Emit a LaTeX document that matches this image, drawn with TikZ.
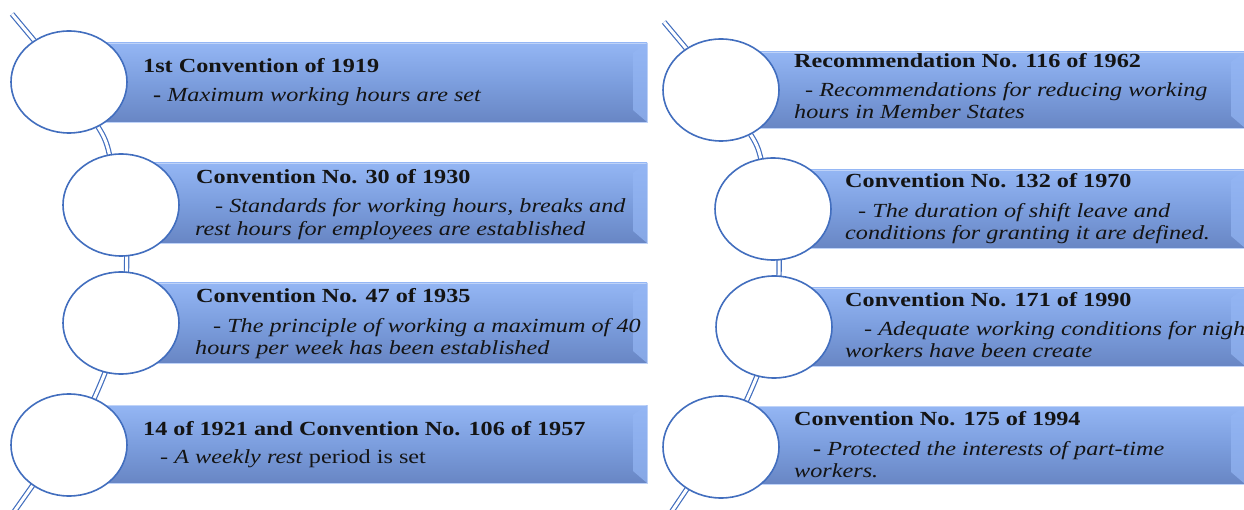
\documentclass[tikz,border=0pt]{standalone}
\usepackage{fontspec}
\setmainfont{Liberation Serif}[FakeStretch=1.21]
\usetikzlibrary{shapes.geometric, backgrounds}
\definecolor{barBlue}{RGB}{124, 158, 222}
\definecolor{barTop}{RGB}{148, 182, 244}
\definecolor{barBottom}{RGB}{104, 134, 196}
\definecolor{ringBlue}{RGB}{66, 110, 190}
\definecolor{inkDark}{RGB}{20, 20, 20}

\begin{document}
\begin{tikzpicture}[x=1pt, y=-1pt,
    bar/.style={top color=barTop, bottom color=barBottom, middle color=barBlue, draw=barTop!60!white, line width=0.8pt},
    bevel/.style={fill=barTop, opacity=0.7},
    ring/.style={ellipse, draw=ringBlue, line width=1.6pt, fill=white, minimum width=116pt, minimum height=102pt, inner sep=0pt},
    link/.style={draw=ringBlue, double=white, double distance=3pt, line width=1.2pt},
    head/.style={anchor=base west, inner sep=0pt, text=inkDark, font=\bfseries\fontsize{20}{24}\selectfont},
    note/.style={anchor=base west, inner sep=0pt, text=inkDark, font=\itshape\fontsize{20}{24}\selectfont}]
      \useasboundingbox (0,0) rectangle (1244,510);

      % Bars
      \foreach \xa/\ya/\xb/\yb in {69/43/647/122, 121/163/647/243, 121/283/647/363, 69/405/647/483,
                                   721/52/1245/128, 773/170/1245/248, 774/288/1245/366, 721/406/1245/484} {
        \draw[bar] (\xa,\ya) rectangle (\xb,\yb);
        \fill[bevel] (\xb,\ya) -- (\xb,\yb) -- (\xb-14,\yb-12) -- (\xb-14,\ya+10) -- cycle;
      }

      % Circles, left column
      \node[ring] (c1) at (69,82) {};
      \node[ring] (c2) at (121,205) {};
      \node[ring] (c3) at (121,323) {};
      \node[ring] (c4) at (69,445) {};

      % Circles, right column
      \node[ring] (c5) at (721,90) {};
      \node[ring] (c6) at (773,209) {};
      \node[ring] (c7) at (774,327) {};
      \node[ring] (c8) at (721,447) {};

      % Free ends of the arcs
      \coordinate (s1) at (12,14);
      \coordinate (e1) at (4,526);
      \coordinate (s2) at (664,22);
      \coordinate (e2) at (662,526);

      % Arcs behind the circles
      \begin{scope}[on background layer]
        \draw[link] (s1) -- (c1) to[bend left=10] (c2) to[bend left=10] (c3) to[bend left=10] (c4) -- (e1);
        \draw[link] (s2) -- (c5) to[bend left=10] (c6) to[bend left=10] (c7) to[bend left=10] (c8) -- (e2);
      \end{scope}

      % Left texts
      \node[head] (t1) at (143,73) {1st Convention of 1919};
      \node[note] (d1) at (153,102) {\textbf{\upshape -} Maximum working hours are set};
      \node[head] (t2) at (196,184) {Convention No. 30 of 1930};
      \node[note] (d2a) at (215,213) {- Standards for working hours, breaks and};
      \node[note] (d2b) at (195,236) {rest hours for employees are established};
      \node[head] (t3) at (196,303) {Convention No. 47 of 1935};
      \node[note] (d3a) at (213,333) {- The principle of working a maximum of 40};
      \node[note] (d3b) at (195,355) {hours per week has been established};
      \node[head] (t4) at (143,435) {14 of 1921 and Convention No. 106 of 1957};
      \node[note] (d4) at (160,463) {- A weekly rest \textup{period is set}};

      % Right texts
      \node[head] (t5) at (794,68) {Recommendation No. 116 of 1962};
      \node[note] (d5a) at (805,97) {- Recommendations for reducing working};
      \node[note] (d5b) at (794,119) {hours in Member States};
      \node[head] (t6) at (845,188) {Convention No. 132 of 1970};
      \node[note] (d6a) at (858,218) {- The duration of shift leave and};
      \node[note] (d6b) at (845,240) {conditions for granting it are defined.};
      \node[head] (t7) at (845,307) {Convention No. 171 of 1990};
      \node[note] (d7a) at (864,335) {- Adequate working conditions for night};
      \node[note] (d7b) at (845,357) {workers have been create};
      \node[head] (t8) at (794,425) {Convention No. 175 of 1994};
      \node[note] (d8a) at (813,455) {\textbf{\upshape -} Protected the interests of part-time};
      \node[note] (d8b) at (794,477) {workers.};
    \end{tikzpicture}
\end{document}
